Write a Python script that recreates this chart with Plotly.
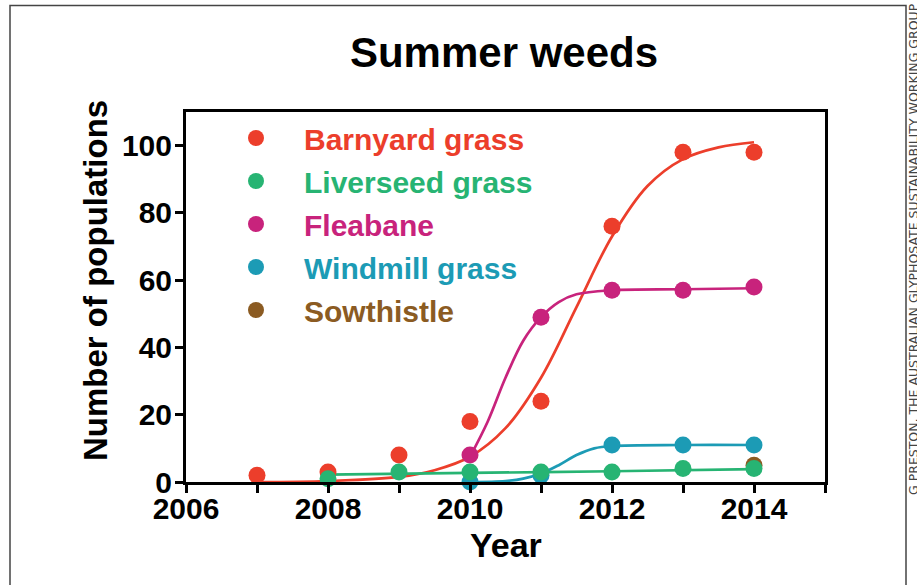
import plotly.graph_objects as go

# ---- data ----
series_names = ["Barnyard grass", "Liverseed grass", "Fleabane", "Windmill grass", "Sowthistle"]
series_colors = ["#ec3e2b", "#27b473", "#c8237c", "#1c9bb5", "#8b5b22"]

barnyard_years = [2007, 2008, 2009, 2010, 2011, 2012, 2013, 2014]
barnyard_values = [2, 3, 8, 18, 24, 76, 98, 98]
liverseed_years = [2008, 2009, 2010, 2011, 2012, 2013, 2014]
liverseed_values = [1, 3, 3, 3, 3, 4, 4]
fleabane_years = [2010, 2011, 2012, 2013, 2014]
fleabane_values = [8, 49, 57, 57, 58]
windmill_years = [2010, 2011, 2012, 2013, 2014]
windmill_values = [0, 2, 11, 11, 11]
sowthistle_years = [2014]
sowthistle_values = [5]

# fitted curves
barnyard_fit_years = [2007, 2008, 2009, 2009.5, 2010, 2010.5, 2011, 2011.5, 2012, 2012.5, 2013, 2013.5, 2014]
barnyard_fit_values = [0, 0.3, 1.5, 3.5, 7.5, 16, 31, 52, 73, 88, 96, 99.5, 101]
liverseed_fit_years = [2008, 2010, 2012, 2014]
liverseed_fit_values = [2.2, 2.7, 3.2, 3.8]
fleabane_fit_years = [2010, 2010.25, 2010.5, 2010.75, 2011, 2011.25, 2011.5, 2012, 2013, 2014]
fleabane_fit_values = [7.5, 18, 31, 42, 49, 53.5, 55.8, 57, 57.3, 57.6]
windmill_fit_years = [2010, 2010.5, 2010.75, 2011, 2011.25, 2011.5, 2011.75, 2012, 2013, 2014]
windmill_fit_values = [0, 0.3, 1, 2.5, 5, 8, 10, 10.7, 11, 11]

x_tick_vals = [2006, 2008, 2010, 2012, 2014]
y_tick_vals = [0, 20, 40, 60, 80, 100]

FONT = "Liberation Sans, Arial, sans-serif"

# plot-area geometry (pixels)
L, R, T, B = 186, 825, 112, 482
W, H = R - L, B - T


def px(x):
    return (x - L) / W


def py(y):
    return (B - y) / H


fig = go.Figure()

fits = [
    (barnyard_fit_years, barnyard_fit_values, 0),
    (fleabane_fit_years, fleabane_fit_values, 2),
    (windmill_fit_years, windmill_fit_values, 3),
    (liverseed_fit_years, liverseed_fit_values, 1),
]
for xs, ys, i in fits:
    fig.add_trace(go.Scatter(x=xs, y=ys, mode="lines", line=dict(color=series_colors[i], width=2.7, shape="spline"),
                             showlegend=False, hoverinfo="skip", cliponaxis=False))

points = [
    (barnyard_years, barnyard_values, 0),
    (fleabane_years, fleabane_values, 2),
    (windmill_years, windmill_values, 3),
    (sowthistle_years, sowthistle_values, 4),
    (liverseed_years, liverseed_values, 1),
]
for xs, ys, i in points:
    fig.add_trace(go.Scatter(
        x=xs, y=ys, mode="markers",
        marker=dict(color=series_colors[i], size=17),
        name=f"<span style='color:{series_colors[i]}'><b>\u2004{series_names[i]}</b></span>",
        legendrank=i + 1, legendgroup=series_names[i], cliponaxis=False))

fig.update_layout(
    width=917, height=585,
    margin=dict(l=L, r=917 - R, t=T, b=585 - B),
    paper_bgcolor="white", plot_bgcolor="white",
    font=dict(family=FONT, color="black"),
    title=dict(text="<b>Summer weeds</b>", x=504 / 917, xanchor="center", y=1 - 52 / 585, yanchor="middle",
               font=dict(size=42, family=FONT, color="black")),
    showlegend=True,
    legend=dict(x=px(218), xanchor="left", y=py(112), yanchor="top",
                traceorder="grouped", tracegroupgap=1, itemwidth=66,
                font=dict(size=30, family=FONT), bgcolor="rgba(0,0,0,0)"),
    xaxis=dict(range=[2006, 2015], tickvals=x_tick_vals, ticktext=[f"<b>{v}</b>" for v in x_tick_vals],
               ticks="outside", ticklen=8, tickwidth=3, tickcolor="black", ticklabelstandoff=-10,
               minor=dict(dtick=1, tick0=2006, ticks="outside", ticklen=8, tickwidth=3, tickcolor="black"),
               showline=True, linewidth=3, linecolor="black", mirror=True, showgrid=False, zeroline=False,
               tickfont=dict(size=30, family=FONT)),
    yaxis=dict(range=[0, 110], tickvals=y_tick_vals, ticktext=[f"<b>{v}</b>" for v in y_tick_vals],
               ticks="outside", ticklen=8, tickwidth=3, tickcolor="black", ticklabelstandoff=-3,
               showline=True, linewidth=3, linecolor="black", mirror=True, showgrid=False, zeroline=False,
               tickfont=dict(size=30, family=FONT)),
)

# axis titles
fig.add_annotation(text="<b>Year</b>", xref="paper", yref="paper", x=px(506), y=py(545),
                   xanchor="center", yanchor="middle", showarrow=False, font=dict(size=34, family=FONT))
fig.add_annotation(text="<b>Number of populations</b>", xref="paper", yref="paper", x=px(95), y=py(281),
                   xanchor="center", yanchor="middle", textangle=-90, showarrow=False,
                   font=dict(size=33, family=FONT))

# outer frame
fig.add_shape(type="rect", xref="paper", yref="paper",
              x0=px(10), x1=px(906), y0=py(600), y1=py(5.5),
              line=dict(color="#444444", width=1.5), fillcolor="rgba(0,0,0,0)", layer="below")

# credit
fig.add_annotation(text="G PRESTON, THE AUSTRALIAN GLYPHOSATE SUSTAINABILITY WORKING GROUP",
                   xref="paper", yref="paper", x=px(913), y=py(497),
                   xanchor="center", yanchor="bottom", textangle=-90, showarrow=False,
                   font=dict(size=12.5, family="DejaVu Sans, sans-serif", color="#444444"))

fig.write_html("out.html", config={"displayModeBar": False},
               post_script="document.body.style.margin='0';document.body.style.overflow='hidden';")
